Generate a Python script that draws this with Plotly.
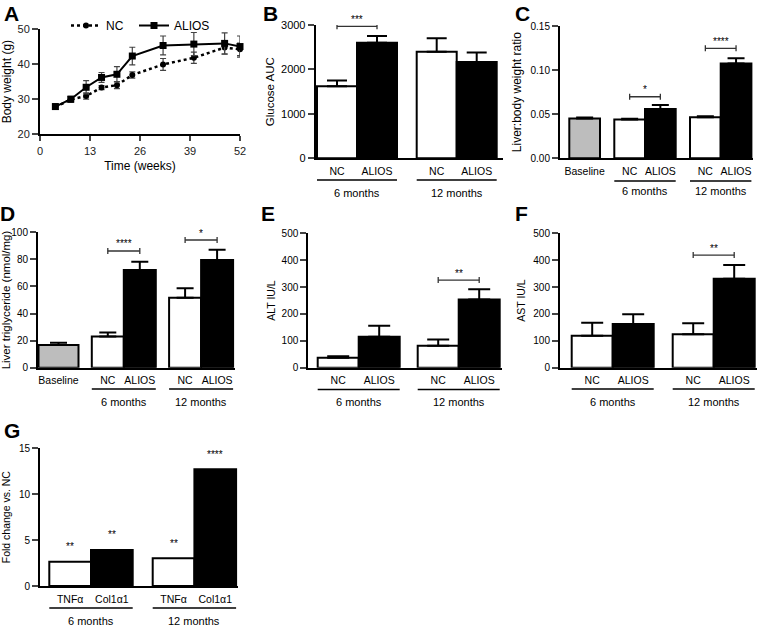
import plotly.graph_objects as go

W, H = 765, 628
FONT = "Liberation Sans, Arial, Helvetica, sans-serif"

# ---------------- data ----------------
weeks = [4, 8, 12, 16, 20, 24, 32, 40, 48, 52]
bw_nc = [27.8, 29.9, 30.9, 33.3, 34.0, 36.9, 39.9, 41.8, 44.7, 44.2]
bw_nc_err = [0.7, 0.8, 0.9, 0.6, 1.0, 0.9, 1.7, 1.6, 1.9, 1.8]
bw_alios = [27.9, 30.0, 33.4, 36.2, 37.1, 42.3, 45.3, 45.7, 45.9, 45.0]
bw_alios_err = [0.8, 0.8, 1.9, 1.4, 2.2, 2.5, 2.7, 3.3, 3.0, 3.0]
time_ticks = [0, 13, 26, 39, 52]

groups = ["6 months", "12 months"]
pair_labels = ["NC", "ALIOS"]
gene_labels = ["TNFα", "Col1α1"]
baseline_label = "Baseline"

gluc_nc = [1620, 2400]
gluc_nc_err = [130, 300]
gluc_alios = [2600, 2170]
gluc_alios_err = [150, 210]
gluc_sig = ["***", ""]

ratio_base = [0.045]
ratio_base_err = [0.0012]
ratio_nc = [0.044, 0.0465]
ratio_nc_err = [0.0008, 0.0012]
ratio_alios = [0.0558, 0.1075]
ratio_alios_err = [0.0045, 0.0060]
ratio_sig = ["*", "****"]

tg_base = [16.7]
tg_base_err = [1.8]
tg_nc = [23.0, 51.7]
tg_nc_err = [3.0, 7.0]
tg_alios = [72.2, 79.6]
tg_alios_err = [6.0, 7.5]
tg_sig = ["****", "*"]

alt_nc = [37, 82]
alt_nc_err = [6, 23]
alt_alios = [115, 254]
alt_alios_err = [41, 38]
alt_sig = ["", "**"]

ast_nc = [119, 124]
ast_nc_err = [48, 41]
ast_alios = [163, 331]
ast_alios_err = [36, 51]
ast_sig = ["", "**"]

fold_tnfa = [2.65, 3.02]
fold_col1a1 = [3.93, 12.73]
fold_tnfa_sig = ["**", "**"]
fold_col1a1_sig = ["**", "****"]


# ---------------- helpers ----------------
def fx(p):
    return p / W


def fy(p):
    return 1 - p / H


fig = go.Figure()
layout = {}
annotations = []
shapes = []

AX = dict(showline=True, linewidth=2, linecolor="black", showgrid=False,
          zeroline=False, fixedrange=True, automargin=False)


def letter(t, x, y):
    annotations.append(dict(text=t, x=fx(x), y=fy(y), xref="paper", yref="paper",
                            showarrow=False, xanchor="center", yanchor="middle",
                            font=dict(family=FONT, size=21, color="black", weight="bold")))


def bar_panel(k, cfg):
    xa, ya = f"x{k}", f"y{k}"
    off, bw, gap = cfg["offset"], cfg["bw"], cfg["gap"]
    cursor = off
    tickvals, ticktext = [], []
    if cfg.get("base") is not None:
        bwid = cfg.get("base_w", bw)
        bc = cursor + bwid / 2
        cursor += bwid + gap
        fig.add_trace(go.Bar(x=[bc], y=cfg["base"], width=[bwid],
                             marker=dict(color="#bdbdbd", line=dict(color="black", width=2)),
                             error_y=dict(type="data", array=cfg["base_err"], arrayminus=[0],
                                          symmetric=False, color="black", thickness=2,
                                          width=cfg["cap"]),
                             xaxis=xa, yaxis=ya, showlegend=False, hoverinfo="skip"))
        tickvals.append(bc)
        ticktext.append(baseline_label)
    c1, c2, spans = [], [], []
    for g in range(len(groups)):
        c1.append(cursor + bw / 2)
        c2.append(cursor + 1.5 * bw)
        spans.append((cursor, cursor + 2 * bw))
        cursor += 2 * bw + gap
    labels = cfg["labels"]
    for i in range(len(groups)):
        tickvals += [c1[i], c2[i]]
        ticktext += labels
    e1 = dict(type="data", array=cfg["e1"], arrayminus=[0] * len(cfg["e1"]), symmetric=False,
              color="black", thickness=2, width=cfg["cap"]) if cfg.get("e1") else None
    e2 = dict(type="data", array=cfg["e2"], arrayminus=[0] * len(cfg["e2"]), symmetric=False,
              color="black", thickness=2, width=cfg["cap"]) if cfg.get("e2") else None
    fig.add_trace(go.Bar(x=c1, y=cfg["v1"], width=[bw] * len(c1),
                         marker=dict(color="white", line=dict(color="black", width=2)),
                         error_y=e1, xaxis=xa, yaxis=ya, showlegend=False, hoverinfo="skip"))
    fig.add_trace(go.Bar(x=c2, y=cfg["v2"], width=[bw] * len(c2),
                         marker=dict(color="black", line=dict(color="black", width=2)),
                         error_y=e2, xaxis=xa, yaxis=ya, showlegend=False, hoverinfo="skip"))
    L = cfg["x1"] - cfg["x0"]
    layout[f"xaxis{k}"] = dict(AX, domain=[fx(cfg["x0"]), fx(cfg["x1"])], range=[0, L],
                               anchor=ya, ticks="", tickvals=tickvals, ticktext=ticktext,
                               ticklabelstandoff=cfg.get("lstand", 2),
                               tickfont=dict(family=FONT, size=10.5, color="black"))
    layout[f"yaxis{k}"] = dict(AX, domain=[fy(cfg["ybot"]), fy(cfg["ytop"])], range=cfg["yr"],
                               anchor=xa, ticks="outside", ticklen=6, tickwidth=1.5,
                               dtick=cfg["dtick"], tick0=0, tickformat=cfg.get("fmt", "d"),
                               tickfont=dict(family=FONT, size=cfg.get("tfs", 10), color="black"),
                               title=dict(text=cfg["title"], standoff=cfg["standoff"],
                                          font=dict(family=FONT, size=cfg["tsz"], color="black")))
    # group underlines and labels
    for i, (a, b) in enumerate(spans):
        shapes.append(dict(type="line", xref=xa, yref="paper", x0=a, x1=b,
                           y0=fy(cfg["ul_y"]), y1=fy(cfg["ul_y"]),
                           line=dict(color="black", width=1.6)))
        annotations.append(dict(text=groups[i], x=(a + b) / 2, y=fy(cfg["grp_y"]), xref=xa,
                                yref="paper", showarrow=False, xanchor="center", yanchor="middle",
                                font=dict(family=FONT, size=11, color="black")))
    # significance brackets
    for i, s in enumerate(cfg.get("sig", [])):
        if not s:
            continue
        yv = cfg["br"][i]
        shapes.append(dict(type="line", xref=xa, yref=ya, x0=c1[i], x1=c2[i], y0=yv, y1=yv,
                           line=dict(color="#333", width=1.3)))
        for cx in (c1[i], c2[i]):
            shapes.append(dict(type="line", xref=xa, yref=ya, x0=cx, x1=cx, ysizemode="pixel",
                               yanchor=yv, y0=-3, y1=3, line=dict(color="#333", width=1.3)))
        annotations.append(dict(text=s, x=(c1[i] + c2[i]) / 2, y=yv, xref=xa, yref=ya,
                                showarrow=False, xanchor="center", yanchor="middle", yshift=7,
                                font=dict(family=FONT, size=10, color="black")))
    # stars above bars (panel G)
    for key, cs, vs in (("sig1", c1, cfg["v1"]), ("sig2", c2, cfg["v2"])):
        for i, s in enumerate(cfg.get(key, [])):
            annotations.append(dict(text=s, x=cs[i], y=vs[i], xref=xa, yref=ya, showarrow=False,
                                    xanchor="center", yanchor="middle", yshift=15,
                                    font=dict(family=FONT, size=10, color="black")))


# ---------------- panel A ----------------
fig.add_trace(go.Scatter(x=weeks, y=bw_nc, name="NC", mode="lines+markers",
                         line=dict(color="black", width=2.5, dash="dot"),
                         marker=dict(symbol="circle", size=6, color="black"),
                         error_y=dict(type="data", array=bw_nc_err, color="#444", thickness=1.2, width=3),
                         cliponaxis=False, xaxis="x", yaxis="y", legend="legend"))
fig.add_trace(go.Scatter(x=weeks, y=bw_alios, name="ALIOS", mode="lines+markers",
                         line=dict(color="black", width=2),
                         marker=dict(symbol="square", size=7, color="black"),
                         error_y=dict(type="data", array=bw_alios_err, color="#444", thickness=1.2, width=3),
                         cliponaxis=False, xaxis="x", yaxis="y", legend="legend2"))
layout["xaxis"] = dict(AX, domain=[fx(40), fx(240)], range=[0, 52], anchor="y8",
                       tickvals=time_ticks, ticks="outside", ticklen=5, tickwidth=1.5,
                       tickfont=dict(family=FONT, size=11, color="#222"),
                       title=dict(text="Time (weeks)", standoff=6,
                                  font=dict(family=FONT, size=12, color="black")))
layout["yaxis"] = dict(AX, domain=[fy(134.3), fy(29)], range=[20, 50], anchor="x",
                       dtick=10, ticks="outside", ticklen=6, tickwidth=1.5,
                       tickfont=dict(family=FONT, size=11, color="#222"),
                       title=dict(text="Body weight (g)", standoff=4,
                                  font=dict(family=FONT, size=12, color="black")))
layout["yaxis8"] = dict(AX, domain=[fy(157.7), fy(145.7)], range=[0, 3.4], anchor="x",
                        tickvals=[0], ticks="outside", ticklen=6, tickwidth=1.5,
                        tickfont=dict(family=FONT, size=11, color="#222"))

# ---------------- bar panels ----------------
bar_panel(2, dict(x0=315.7, x1=503, ytop=25, ybot=158.3, yr=[0, 3000], dtick=1000,
                  title="Glucose AUC", tsz=11.5, standoff=4, tfs=11,
                  offset=1.3, bw=40, gap=19.7, cap=10, labels=pair_labels,
                  v1=gluc_nc, e1=gluc_nc_err, v2=gluc_alios, e2=gluc_alios_err,
                  sig=gluc_sig, br=[2970, None], ul_y=180, grp_y=193))
bar_panel(3, dict(x0=560, x1=753, ytop=26, ybot=158.3, yr=[0, 0.15], dtick=0.05, fmt=".2f",
                  title="Liver:body weight ratio", tsz=12, standoff=6, tfs=10,
                  offset=9.3, bw=30.7, gap=14.3, cap=8.5, labels=pair_labels,
                  base=ratio_base, base_err=ratio_base_err,
                  v1=ratio_nc, e1=ratio_nc_err, v2=ratio_alios, e2=ratio_alios_err,
                  sig=ratio_sig, br=[0.0698, 0.1247], ul_y=181, grp_y=191))
bar_panel(4, dict(x0=38, x1=235, ytop=232.3, ybot=367.7, yr=[0, 100], dtick=20,
                  title="Liver triglyceride (nmol/mg)", tsz=11.5, standoff=6, tfs=10,
                  offset=0.5, bw=32, gap=13.3, base_w=40, cap=8.5, labels=pair_labels,
                  base=tg_base, base_err=tg_base_err,
                  v1=tg_nc, e1=tg_nc_err, v2=tg_alios, e2=tg_alios_err,
                  sig=tg_sig, br=[86.2, 94.3], ul_y=389, grp_y=401.5))
bar_panel(5, dict(x0=308.3, x1=501.7, ytop=233.3, ybot=367.7, yr=[0, 500], dtick=100,
                  title="ALT IU/L", tsz=10.5, standoff=4, tfs=10,
                  offset=9.4, bw=41, gap=18, cap=11, labels=pair_labels,
                  v1=alt_nc, e1=alt_nc_err, v2=alt_alios, e2=alt_alios_err,
                  sig=alt_sig, br=[None, 326], ul_y=389.5, grp_y=401.5))
bar_panel(6, dict(x0=560, x1=756.7, ytop=233.3, ybot=367.7, yr=[0, 500], dtick=100,
                  title="AST IU/L", tsz=10.5, standoff=6, tfs=10,
                  offset=11.7, bw=41, gap=19, cap=11, labels=pair_labels,
                  v1=ast_nc, e1=ast_nc_err, v2=ast_alios, e2=ast_alios_err,
                  sig=ast_sig, br=[None, 419], ul_y=389, grp_y=401.5))
bar_panel(7, dict(x0=40, x1=238, ytop=448.3, ybot=586, yr=[0, 15], dtick=5,
                  title="Fold change vs. NC", tsz=10.5, standoff=9, tfs=10,
                  offset=9.3, bw=41.7, gap=20, cap=10, labels=gene_labels,
                  v1=fold_tnfa, v2=fold_col1a1, sig1=fold_tnfa_sig, sig2=fold_col1a1_sig,
                  ul_y=608, grp_y=621))

letter("A", 11, 13.5)
letter("B", 270, 13.5)
letter("C", 522, 13)
letter("D", 7, 213)
letter("E", 268, 213)
letter("F", 521.5, 213)
letter("G", 12, 430)

LEG = dict(orientation="h", y=fy(11), xanchor="left", yanchor="top",
           font=dict(family=FONT, size=12, color="black"), itemwidth=30,
           bgcolor="rgba(0,0,0,0)")

fig.update_layout(layout)
fig.update_layout(
    template="none",
    width=W, height=H, autosize=False,
    margin=dict(l=0, r=0, t=0, b=0, pad=0, autoexpand=False),
    paper_bgcolor="white", plot_bgcolor="white",
    barmode="overlay",
    font=dict(family=FONT, color="black"),
    annotations=annotations, shapes=shapes,
    legend=dict(LEG, x=fx(66)),
    legend2=dict(LEG, x=fx(134)),
)

fig.write_html("out.html", config={"displayModeBar": False},
               post_script="document.body.style.margin='0';document.body.style.padding='0';"
                           "document.body.style.overflow='hidden';")
